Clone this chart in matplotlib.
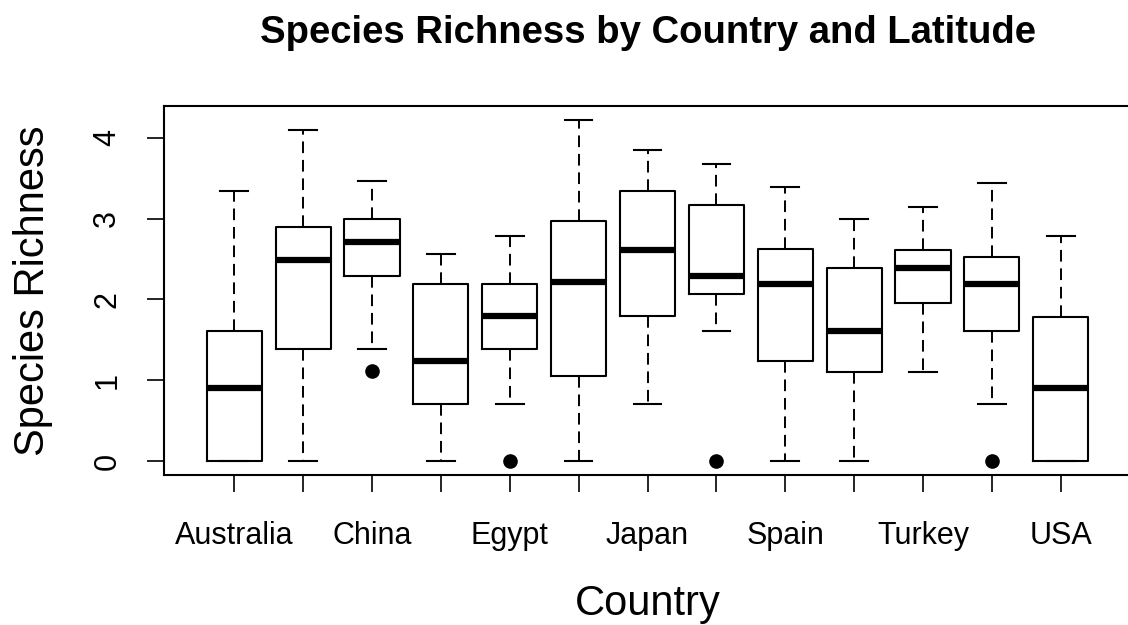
import matplotlib
matplotlib.use('Agg')
import matplotlib.pyplot as plt

# R-style base boxplot, one box per country (only every other label is drawn in the original)
labels = ['Australia', '', 'China', '', 'Egypt', '', 'Japan', '',
          'Spain', '', 'Turkey', '', 'USA']

whislo = [0.0, 0.0, 1.39, 0.0, 0.71, 0.0, 0.71, 1.61, 0.0, 0.0, 1.10, 0.71, 0.0]
q1 = [0.0, 1.39, 2.29, 0.71, 1.39, 1.05, 1.80, 2.07, 1.24, 1.10, 1.95, 1.61, 0.0]
med = [0.90, 2.49, 2.71, 1.24, 1.80, 2.22, 2.61, 2.29, 2.19, 1.61, 2.39, 2.19, 0.90]
q3 = [1.61, 2.90, 3.00, 2.19, 2.19, 2.97, 3.34, 3.17, 2.63, 2.39, 2.61, 2.53, 1.78]
whishi = [3.34, 4.10, 3.46, 2.56, 2.78, 4.22, 3.85, 3.68, 3.39, 3.00, 3.14, 3.44, 2.78]
fliers = [[], [], [1.11], [], [0.0], [], [], [0.0], [], [], [], [0.0], []]

plt.rcParams['font.family'] = ['Liberation Sans', 'DejaVu Sans']

fig = plt.figure(figsize=(11.28, 6.25), dpi=100)
ax = fig.add_axes([164 / 1128, (625 - 474.7) / 625, (1131 - 164) / 1128, (474.7 - 106.4) / 625])

stats = []
for i in range(len(labels)):
    stats.append(dict(whislo=whislo[i], q1=q1[i], med=med[i], q3=q3[i],
                      whishi=whishi[i], fliers=fliers[i]))

ax.bxp(stats, positions=range(1, len(labels) + 1), widths=0.8,
       boxprops=dict(color='black', linewidth=1.5),
       medianprops=dict(color='black', linewidth=4.5, solid_capstyle='butt'),
       whiskerprops=dict(color='black', linewidth=1.4, linestyle=(0, (6, 3.5))),
       capprops=dict(color='black', linewidth=1.5),
       flierprops=dict(marker='o', markerfacecolor='black', markeredgecolor='black',
                       markersize=9.5, linestyle='none'),
       capwidths=0.4)

ax.set_xlim(-0.02, 14.02)
ax.set_ylim(-0.169, 4.389)
ax.set_xticks(range(1, len(labels) + 1))
ax.set_xticklabels(labels)
ax.set_yticks([0, 1, 2, 3, 4])
ax.set_yticklabels(['0', '1', '2', '3', '4'], rotation=90, va='center')

ax.tick_params(axis='both', direction='out', length=12, width=1.2, labelsize=22)
ax.tick_params(axis='x', pad=21)
ax.tick_params(axis='y', pad=18)
for s in ax.spines.values():
    s.set_linewidth(1.5)

ax.set_xlabel('Country', fontsize=30, labelpad=24)
ax.set_ylabel('Species Richness', fontsize=30, labelpad=28)
fig.text(648 / 1128, 1 - 33 / 625, 'Species Richness by Country and Latitude',
         ha='center', va='center', fontsize=27.5, fontweight='bold')

fig.savefig('out.png', dpi=100)
